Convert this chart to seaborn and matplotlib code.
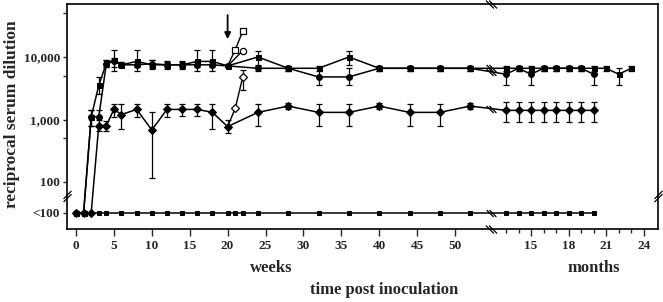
import numpy as np
import pandas as pd
import seaborn as sns
import matplotlib.pyplot as plt
from matplotlib.path import Path
from matplotlib.ticker import FixedLocator, NullFormatter

# plotting level used for "<100" (below the axis break)
LOW = 32

# time points
weeks = [0, 1, 2, 3, 4, 5, 6, 8, 10, 12, 14, 16, 18, 20, 24, 28, 32, 36, 40, 44, 48, 52]
months_a = [13, 14, 15, 16, 17, 18, 19, 20, 21, 22, 23]
months_bc = [13, 14, 15, 16, 17, 18, 19, 20]

# series A (filled squares)
a_w = [LOW, LOW, 1100, 3500, 8000, 9000, 7500, 8500, 7500, 7500, 7500, 8500, 8500, 7200,
       10000, 6600, 6600, 10000, 6600, 6600, 6600, 6600]
a_w_lo = [LOW, LOW, 800, 2600, 7000, 6000, 6800, 6000, 6500, 6500, 6500, 6000, 6000, 6800,
          7400, 6000, 6000, 7400, 6000, 6000, 6000, 6000]
a_w_hi = [LOW, LOW, 1400, 4700, 9000, 13000, 8200, 13000, 9000, 8500, 8500, 13000, 13000, 7800,
          12600, 7200, 7200, 12600, 7200, 7200, 7200, 7200]
a_m = [6600, 6600, 6600, 6600, 6600, 6600, 6600, 6600, 6600, 5300, 6600]
a_m_lo = [6000, 6000, 6000, 6000, 6000, 6000, 6000, 6000, 6000, 3600, 6000]
a_m_hi = [7200, 7200, 7200, 7200, 7200, 7200, 7200, 7200, 7200, 6600, 7200]

# series B (filled circles)
b_w = [LOW, LOW, 1100, 1100, 7800, 8500, 7500, 7500, 7800, 7500, 7500, 7500, 7500, 7200,
       6600, 6600, 4800, 4800, 6600, 6600, 6600, 6600]
b_w_lo = [LOW, LOW, 800, 800, 7000, 7000, 6800, 6800, 6800, 6800, 6800, 6800, 6800, 6800,
          6000, 6000, 3600, 3600, 6000, 6000, 6000, 6000]
b_w_hi = [LOW, LOW, 1400, 1400, 9000, 9500, 8200, 8200, 8800, 8200, 8200, 8200, 8200, 7800,
          7200, 7200, 6600, 6600, 7200, 7200, 7200, 7200]
b_m = [5300, 6600, 5300, 6600, 6600, 6600, 6600, 5300]
b_m_lo = [3600, 6000, 3600, 6000, 6000, 6000, 6000, 3600]
b_m_hi = [6600, 7200, 6600, 7200, 7200, 7200, 7200, 6600]

# series C (filled diamonds, lower)
c_w = [LOW, LOW, LOW, 800, 800, 1450, 1200, 1450, 680, 1450, 1450, 1450, 1300, 770,
       1300, 1640, 1300, 1300, 1640, 1300, 1300, 1640]
c_w_lo = [LOW, LOW, LOW, 650, 650, 1100, 700, 1100, 115, 1100, 1150, 1150, 700, 600,
          800, 1450, 800, 800, 1450, 800, 800, 1450]
c_w_hi = [LOW, LOW, LOW, 1000, 950, 1800, 1800, 1800, 1300, 1800, 1800, 1800, 1800, 1000,
          1800, 1850, 1800, 1800, 1850, 1800, 1800, 1850]
c_m = [1400, 1400, 1400, 1400, 1400, 1400, 1400, 1400]
c_m_lo = [900, 900, 900, 900, 900, 900, 900, 900]
c_m_hi = [1900, 1900, 1900, 1900, 1900, 1900, 1900, 1900]

# open-symbol branches after the boost at week 20
sq_open_w = [20, 21, 22]
sq_open = [7200, 13000, 26000]
ci_open_w = [20, 22]
ci_open = [7200, 12600]
di_open_w = [20, 21, 22]
di_open = [770, 1500, 4800]
di_open_lo = [770, 1500, 2950]
di_open_hi = [770, 1500, 6300]

# baseline group (all <100)
base_w = [0, 1, 2, 3, 4, 6, 8, 10, 12, 14, 16, 18, 20, 21, 22, 24, 28, 32, 36, 40, 44, 48, 52]
base_w_vals = [LOW, LOW, LOW, LOW, LOW, LOW, LOW, LOW, LOW, LOW, LOW, LOW, LOW, LOW, LOW,
               LOW, LOW, LOW, LOW, LOW, LOW, LOW, LOW]
base_m = [13, 14, 15, 16, 17, 18, 19, 20]
base_m_vals = [LOW, LOW, LOW, LOW, LOW, LOW, LOW, LOW]

week_ticks = [0, 5, 10, 15, 20, 25, 30, 35, 40, 45, 50]
month_ticks = [15, 18, 21, 24]
month_minor = [13, 14, 16, 17, 19, 20, 22, 23]
y_ticks = [LOW, 100, 1000, 10000]
y_labels = ['<100', '100', '1,000', '10,000']
y_minor = [500, 5000, 50000]

BREAK_X = 54.75


def mpos(m):
    # months share the axis with weeks after the break
    return 60.03 + (np.asarray(m, dtype=float) - 15) * 1.652


def series(wx, wy, mx=None, my=None):
    x = list(wx)
    y = list(wy)
    if mx is not None:
        x += list(mpos(mx))
        y += list(my)
    return pd.DataFrame({'x': x, 'y': y})


sns.set_style("ticks")
plt.rcParams['font.family'] = ['Liberation Serif', 'DejaVu Serif']
plt.rcParams['font.weight'] = 'bold'

fig = plt.figure(figsize=(6.63, 3.02), dpi=100)
ax = fig.add_axes([67 / 663, 73 / 302, 591 / 663, 225 / 302])
ax.set_yscale('log')

line_kw = dict(color='k', lw=1.1, sort=False, legend=False, ax=ax, estimator=None)
err_kw = dict(fmt='none', ecolor='k', elinewidth=0.9, capsize=2.2, capthick=0.9, zorder=2)

dA = series(weeks, a_w, months_a, a_m)
dB = series(weeks, b_w, months_bc, b_m)
dC = series(weeks, c_w, months_bc, c_m)
dBase = series(base_w, base_w_vals, base_m, base_m_vals)

for d, lo, hi in [(dA, a_w_lo + a_m_lo, a_w_hi + a_m_hi),
                  (dB, b_w_lo + b_m_lo, b_w_hi + b_m_hi),
                  (dC, c_w_lo + c_m_lo, c_w_hi + c_m_hi)]:
    y = d['y'].values
    ax.errorbar(d['x'], y, yerr=[y - np.array(lo), np.array(hi) - y], **err_kw)

sns.lineplot(data=dA, x='x', y='y', marker='s', ms=3.6, mec='k', mfc='k', **line_kw)
sns.lineplot(data=dB, x='x', y='y', marker='o', ms=4.2, mec='k', mfc='k', **line_kw)
sns.lineplot(data=dC, x='x', y='y', marker='D', ms=4.2, mec='k', mfc='k', **line_kw)
sns.lineplot(data=dBase, x='x', y='y', marker='s', ms=2.8, mec='k', mfc='k', **line_kw)

# open symbols after the boost
dSq = pd.DataFrame({'x': sq_open_w, 'y': sq_open})
dCi = pd.DataFrame({'x': ci_open_w, 'y': ci_open})
dDi = pd.DataFrame({'x': di_open_w, 'y': di_open})
sns.lineplot(data=dSq, x='x', y='y', color='k', lw=1.0, sort=False, legend=False, ax=ax, estimator=None)
sns.lineplot(data=dCi, x='x', y='y', color='k', lw=1.0, sort=False, legend=False, ax=ax, estimator=None)
sns.lineplot(data=dDi, x='x', y='y', color='k', lw=1.0, sort=False, legend=False, ax=ax, estimator=None)
dy = np.array(di_open)
ax.errorbar(di_open_w, dy, yerr=[dy - np.array(di_open_lo), np.array(di_open_hi) - dy], **err_kw)
ax.plot(sq_open_w[1:], sq_open[1:], 's', ms=4.5, mec='k', mfc='white', mew=0.9, zorder=4)
ax.plot(ci_open_w[1:], ci_open[1:], 'o', ms=4.5, mec='k', mfc='white', mew=0.9, zorder=4)
ax.plot(di_open_w[1:], di_open[1:], 'D', ms=4.2, mec='k', mfc='white', mew=0.9, zorder=4)

# boost arrow
ax.annotate('', xy=(20, 17500), xytext=(20, 52000),
            arrowprops=dict(arrowstyle='-|>', color='k', lw=1.3, mutation_scale=9))

# axis limits and ticks
ax.set_xlim(-1.19, 76.78)
ax.set_ylim(10 ** 1.248, 10 ** 4.848)
ax.set_xticks(list(week_ticks) + list(mpos(month_ticks)))
ax.set_xticklabels([str(t) for t in week_ticks] + [str(t) for t in month_ticks])
ax.xaxis.set_minor_locator(FixedLocator(mpos(month_minor)))
ax.set_yticks(y_ticks)
ax.set_yticklabels(y_labels)
ax.yaxis.set_minor_locator(FixedLocator(y_minor))
ax.yaxis.set_minor_formatter(NullFormatter())
ax.tick_params(axis='x', which='major', direction='out', length=5, width=1, labelsize=9.5, pad=3)
ax.tick_params(axis='x', which='minor', direction='out', length=3, width=1)
ax.tick_params(axis='y', which='both', direction='out', length=3, width=1, labelsize=9.5, pad=2)
for s in ax.spines.values():
    s.set_linewidth(1.2)
    s.set_color('k')
ax.set_xlabel('')
ax.set_ylabel('')

# break marks
back = Path([(-0.7, 0.5), (0.3, -0.5), (-0.3, 0.5), (0.7, -0.5)],
            [Path.MOVETO, Path.LINETO, Path.MOVETO, Path.LINETO])
fwd = Path([(-0.5, -0.7), (0.5, 0.3), (-0.5, -0.3), (0.5, 0.7)],
           [Path.MOVETO, Path.LINETO, Path.MOVETO, Path.LINETO])
brk_kw = dict(ls='none', mec='k', mfc='none', mew=0.9, clip_on=False, zorder=6)
ylo, yhi = ax.get_ylim()
ax.plot([BREAK_X, BREAK_X], [ylo, yhi], marker=back, ms=8, **brk_kw)
for d in [dA, dB, dC, dBase]:
    yb = 10 ** np.interp(BREAK_X, d['x'], np.log10(d['y']))
    ax.plot([BREAK_X], [yb], marker=back, ms=7, **brk_kw)
ax.plot([-1.19, 76.78], [60, 60], marker=fwd, ms=8, **brk_kw)

# labels
fig.text(271 / 663, 1 - 268 / 302, 'weeks', ha='center', va='center', fontsize=12, fontweight='bold')
fig.text(594 / 663, 1 - 268 / 302, 'months', ha='center', va='center', fontsize=12, fontweight='bold')
fig.text(384 / 663, 1 - 290 / 302, 'time post inoculation', ha='center', va='center',
         fontsize=12, fontweight='bold')
fig.text(12 / 663, 1 - 114 / 302, 'reciprocal serum dilution', ha='center', va='center',
         rotation=90, fontsize=12.5, fontweight='bold')

fig.savefig('out.png', dpi=100)
